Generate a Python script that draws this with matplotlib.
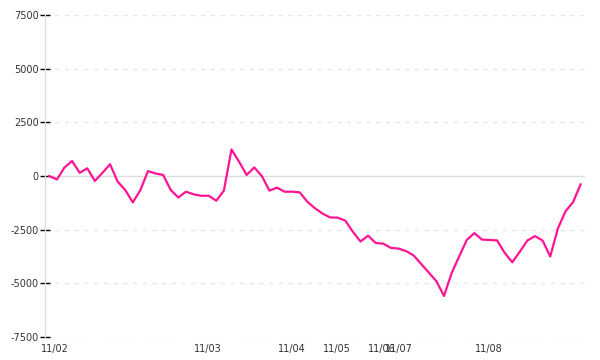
import matplotlib
matplotlib.use('Agg')
import matplotlib.pyplot as plt
import numpy as np

# values, one per sample
values = [0, -160, 400, 700, 150, 360, -230, 150, 550, -260,
          -650, -1230, -650, 230, 120, 50, -650, -1000, -730, -850,
          -920, -920, -1150, -680, 1240, 670, 50, 400, 0, -680,
          -540, -730, -730, -760, -1200, -1500, -1750, -1930, -1940, -2080,
          -2600, -3050, -2780, -3120, -3150, -3350, -3380, -3500, -3700, -4100,
          -4500, -4900, -5590, -4530, -3750, -2980, -2660, -2960, -2980, -3000,
          -3580, -4020, -3520, -3000, -2800, -3010, -3750, -2450, -1650, -1220,
          -390]

# month labels and where they sit along the sample index
month_labels = ['11/02', '11/03', '11/04', '11/05', '11/06', '11/07', '11/08']
month_pos = [0.75, 20.9, 32.0, 37.9, 43.8, 46.1, 57.9]

y_ticks = [-7500, -5000, -2500, 0, 2500, 5000, 7500]

fig = plt.figure(figsize=(6, 3.6), dpi=100)
ax = fig.add_axes([0.075, 0.064, 0.9, 0.894])

x = np.arange(len(values))

# grid lines
for yt in y_ticks:
    if yt == 0:
        ax.axhline(yt, color='#dddddd', lw=1, zorder=1)
    else:
        ax.axhline(yt, color='#e6e6e6', lw=1, ls=(0, (3, 4)), zorder=1)

ax.plot(x, values, color='#ff1493', lw=1.6, zorder=3)

ax.set_xlim(-0.57, 70.58)
ax.set_ylim(-7500, 7500)

ax.set_yticks(y_ticks)
ax.set_yticklabels([str(v) for v in y_ticks])
ax.set_xticks(month_pos)
ax.set_xticklabels(month_labels)

for s in ['top', 'right', 'bottom']:
    ax.spines[s].set_visible(False)
ax.spines['left'].set_color('#dddddd')
ax.spines['left'].set_linewidth(1)

ax.tick_params(axis='y', direction='inout', length=7, width=1, color='black',
               labelsize=7, labelcolor='#333333', pad=1)
ax.tick_params(axis='x', length=0, labelsize=7, labelcolor='#333333', pad=5)

fig.savefig('out.png', dpi=100)
